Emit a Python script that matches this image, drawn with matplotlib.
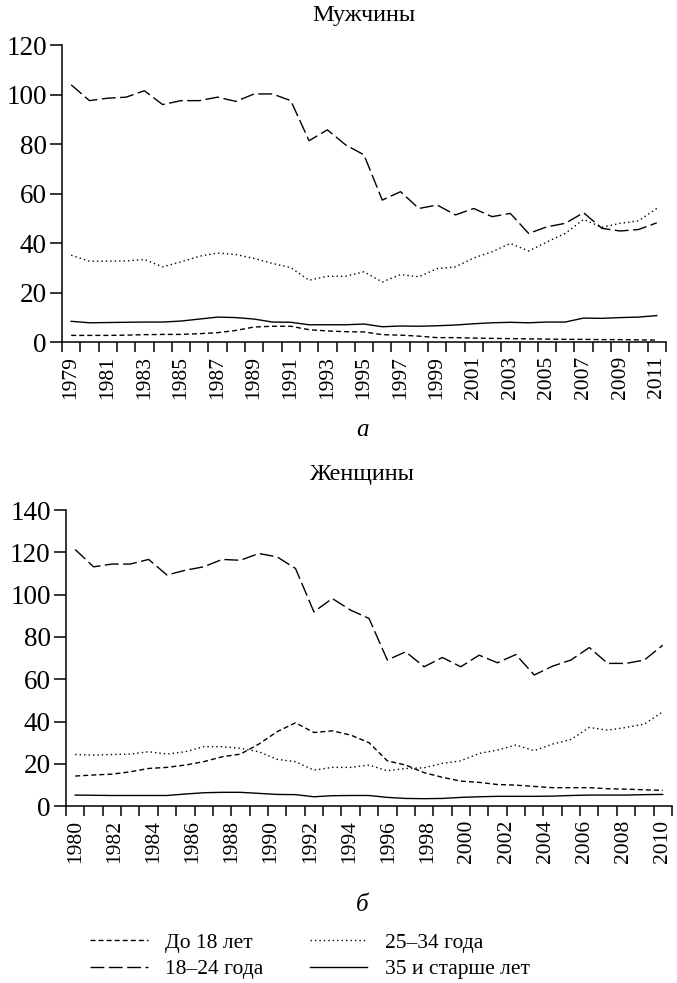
import numpy as np
import matplotlib
matplotlib.use("Agg")
import matplotlib.pyplot as plt

plt.rcParams['font.family'] = ['Liberation Serif', 'DejaVu Serif']

# --- data ---
men_years = [str(y) for y in range(1979, 2012)]
men_under18 = [2.7, 2.7, 2.7, 2.8, 3.0, 3.1, 3.1, 3.4, 3.8, 4.7, 6.1, 6.4, 6.4,
               5.0, 4.5, 4.2, 4.1, 3.0, 2.8, 2.4, 1.8, 1.8, 1.6, 1.5, 1.4, 1.3,
               1.2, 1.1, 1.1, 1.0, 1.0, 0.9, 0.8]
men_18_24 = [104, 97.6, 98.6, 99, 101.6, 96, 97.6, 97.6, 99, 97.3, 100.3, 100.3,
             97.6, 81.4, 85.8, 79.7, 75.7, 57.4, 60.8, 54, 55.4, 51.4, 54, 50.7,
             52, 43.9, 46.6, 48, 52.3, 46, 44.9, 45.5, 48.2]
men_25_34 = [35.1, 32.7, 32.7, 32.8, 33.4, 30.4, 32.4, 34.7, 36, 35.4, 33.8, 31.8,
             30.1, 25, 26.6, 26.6, 28.4, 24.3, 27.3, 26.4, 29.7, 30.4, 34, 36.5,
             39.9, 36.8, 40.5, 43.9, 49.6, 46.4, 48, 49, 54]
men_35plus = [8.4, 7.8, 7.9, 8.0, 8.1, 8.1, 8.5, 9.3, 10.1, 9.9, 9.3, 8.1, 8.0,
              7.0, 7.0, 7.0, 7.3, 6.2, 6.5, 6.4, 6.6, 6.9, 7.4, 7.8, 8.0, 7.8,
              8.1, 8.1, 9.7, 9.6, 9.9, 10.1, 10.7]

women_labels = [str(y) for y in range(1980, 2011, 2)]
women_under18 = [14.2, 14.7, 15.1, 16.2, 17.8, 18.3, 19.4, 21, 23.3, 24.6, 29.3,
                 35.2, 39.4, 34.8, 35.6, 33.6, 30, 21.4, 19.4, 15.8, 13.6, 11.8,
                 11.2, 10.2, 9.9, 9.3, 8.7, 8.7, 8.7, 8.2, 8, 7.7, 7.4]
women_18_24 = [121.4, 113.2, 114.5, 114.5, 116.7, 109.3, 111.6, 113.2, 116.7,
               116.3, 119.5, 117.9, 112.4, 91.9, 98.2, 92.7, 88.8, 69.1, 73, 65.9,
               70.3, 65.9, 71.4, 67.8, 71.7, 62, 66.2, 69.1, 75, 67.5, 67.5, 69.1,
               76.1]
women_25_34 = [24.4, 24.1, 24.4, 24.6, 25.7, 24.6, 25.7, 28.1, 28.1, 27.3, 25.7,
               22.1, 21, 17, 18.3, 18.3, 19.4, 16.7, 17.8, 18.1, 20.2, 21.4, 24.9,
               26.5, 28.9, 26.2, 29.3, 31.5, 37.2, 35.9, 37.2, 38.8, 44.6]
women_35plus = [5.2, 5.1, 5.0, 5.0, 5.0, 5.0, 5.7, 6.3, 6.5, 6.5, 6.0, 5.5, 5.4,
                4.4, 4.9, 5.0, 5.0, 4.1, 3.6, 3.5, 3.6, 4.1, 4.4, 4.6, 4.6, 4.6,
                4.7, 5.0, 5.2, 5.2, 5.2, 5.4, 5.5]

series_names = ['До 18 лет', '18–24 года', '25–34 года', '35 и старше лет']
styles = [(0, (3.6, 2.2)), (0, (10, 3.2)), (0, (1, 2.2)), '-']

fig = plt.figure(figsize=(6.77, 9.83), dpi=100)
ax1 = fig.add_axes([0.0916, 0.652, 0.892, 0.302])
ax2 = fig.add_axes([0.0975, 0.180, 0.895, 0.301])


def style_axis(ax, n, ymax, lab_pos, lab_txt):
    ax.set_xlim(-0.5, n - 0.5)
    ax.set_ylim(0, ymax)
    for s in ['top', 'right']:
        ax.spines[s].set_visible(False)
    for s in ['left', 'bottom']:
        ax.spines[s].set_linewidth(1.1)
    ax.set_yticks(np.arange(0, ymax + 1, 20))
    ax.set_xticks(np.arange(-0.5, n, 1.0))
    ax.set_xticklabels([])
    ax.set_xticks(lab_pos, minor=True)
    ax.set_xticklabels(lab_txt, minor=True, rotation=90)
    ax.tick_params(axis='x', which='major', direction='out', length=7, width=1.1)
    ax.tick_params(axis='x', which='minor', length=0, pad=10, labelsize=15.5)
    ax.tick_params(axis='y', direction='out', length=9, width=1.1, labelsize=19.5, pad=2)


x1 = np.arange(len(men_years))
for vals, ls in zip([men_under18, men_18_24, men_25_34, men_35plus], styles):
    ax1.plot(x1, vals, color='black', lw=1.0, linestyle=ls)
style_axis(ax1, len(men_years), 120, x1[::2], men_years[::2])

x2 = np.arange(len(women_18_24))
handles = []
for vals, ls, name in zip([women_under18, women_18_24, women_25_34, women_35plus],
                          styles, series_names):
    h, = ax2.plot(x2, vals, color='black', lw=1.0, linestyle=ls, label=name)
    handles.append(h)
style_axis(ax2, len(x2), 140, np.linspace(0, len(x2) - 1, len(women_labels)),
           women_labels)

fig.text(0.537, 1 - 16 / 983, 'Мужчины', ha='center', va='center', fontsize=17.5)
fig.text(0.535, 1 - 430 / 983, 'а', ha='center', va='center', fontsize=18,
         style='italic')
fig.text(0.535, 1 - 474 / 983, 'Женщины', ha='center', va='center', fontsize=17.5)
fig.text(0.535, 1 - 905 / 983, 'б', ha='center', va='center', fontsize=18,
         style='italic')

fig.legend(handles=handles, ncol=2, frameon=False, loc='center',
           bbox_to_anchor=(0.458, 1 - 956 / 983), fontsize=15.5,
           handlelength=2.65, handletextpad=0.8, columnspacing=2.2,
           labelspacing=0.3)

fig.savefig('out.png', dpi=100)
